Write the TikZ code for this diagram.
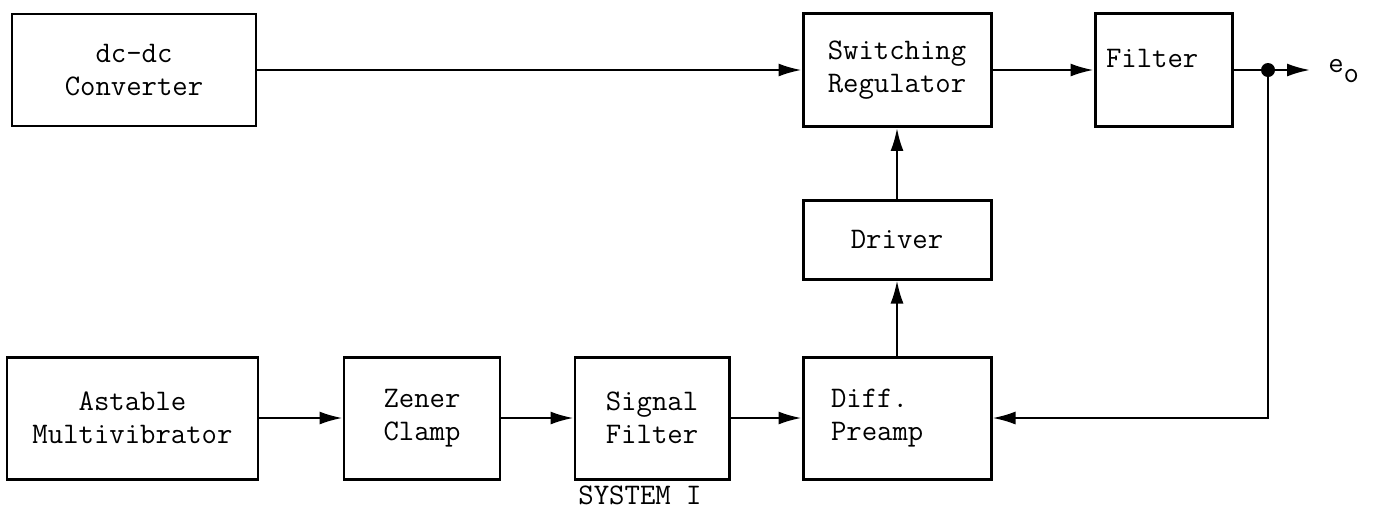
\documentclass[tikz,border=0pt]{standalone}
\usepackage{fontspec}
\usepackage{tikz}
\usetikzlibrary{arrows.meta}

\begin{document}
\begin{tikzpicture}[
        >={Latex[length=4.6mm,width=2.6mm]},
        every node/.style={font=\ttfamily\fontsize{17}{19}\selectfont},
        blk/.style={draw, line width=1.7pt, minimum width=3.76cm, minimum height=2.26cm, align=center, inner sep=2pt},
        sig/.style={->, line width=1.3pt},
        lab/.style={inner sep=0pt}
    ]
    \useasboundingbox (0,0) rectangle (27.5,-10.18);

    % power path
    \node[blk, minimum width=4.88cm, minimum height=2.24cm] (conv) at (2.68,-1.4) {dc-dc\\Converter};
    \node[blk] (swreg) at (17.94,-1.4) {Switching\\Regulator};
    \node[blk, minimum width=2.74cm, text width=2.3cm, inner xsep=0.22cm, align=left,
          text height=0.42cm, text depth=0.52cm] (filt) at (23.27,-1.4) {Filter};

    \draw[sig] (conv) -- (swreg);
    \draw[sig] (swreg) -- (filt);

    \coordinate (tap) at (25.36,-1.4);
    \coordinate (outend) at (26.2,-1.4);
    \draw[line width=1.3pt] (filt) -- (tap);
    \draw[sig] (tap) -- (outend);
    \fill (tap) circle (0.14);
    \node[lab, anchor=base west] (eo) at (26.56,-1.44) {e\raisebox{-0.2cm}{o}};

    % control path
    \node[blk, minimum height=1.58cm] (driver) at (17.94,-4.79) {Driver};
    \node[blk, minimum height=2.44cm, text width=2.64cm, inner xsep=0.56cm, align=left] (preamp) at (17.94,-8.36) {Diff.\\Preamp};

    \node[blk, minimum width=5.02cm, minimum height=2.44cm] (astable) at (2.65,-8.36) {Astable\\Multivibrator};
    \node[blk, minimum width=3.12cm, minimum height=2.44cm] (zener) at (8.44,-8.36) {Zener\\Clamp};
    \node[blk, minimum width=3.08cm, minimum height=2.44cm] (sigfilt) at (13.04,-8.36) {Signal\\Filter};

    \node[lab] (sysname) at (12.8,-9.9) {SYSTEM I};

    \draw[sig] (astable) -- (zener);
    \draw[sig] (zener) -- (sigfilt);
    \draw[sig] (sigfilt) -- (preamp);
    \draw[sig] (preamp) -- (driver);
    \draw[sig] (driver) -- (swreg);

    % feedback
    \draw[sig] (tap) |- (preamp.east);

\end{tikzpicture}
\end{document}
